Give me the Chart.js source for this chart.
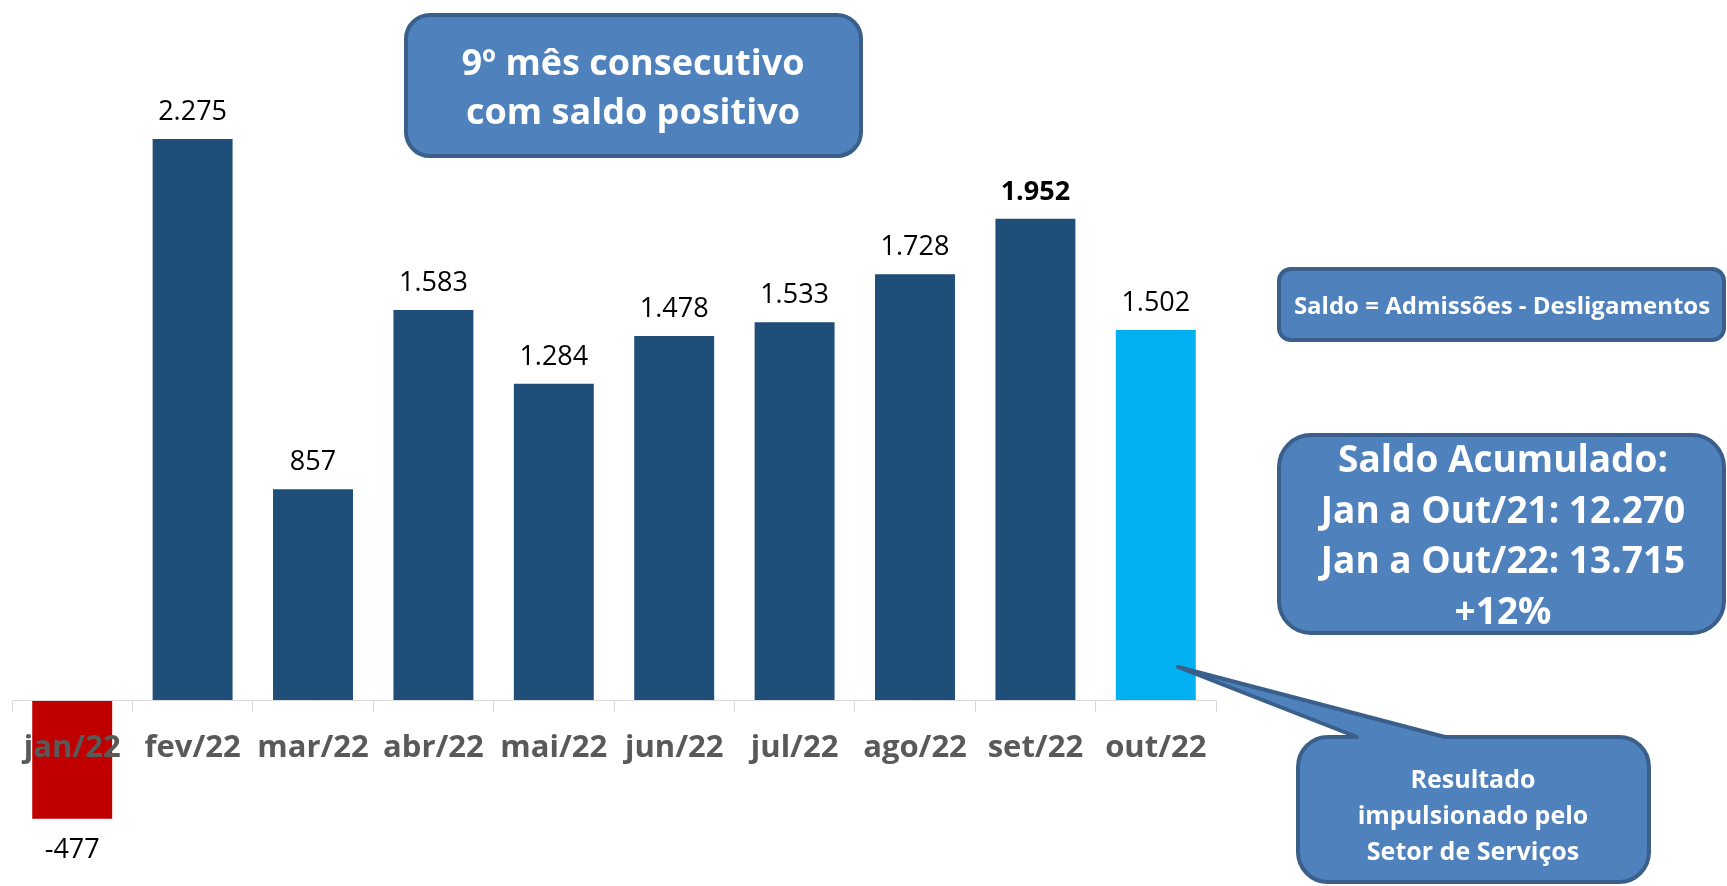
<!DOCTYPE html>
<html>
<head>
<meta charset="utf-8">
<script src="https://cdn.jsdelivr.net/npm/chart.js@4.4.0/dist/chart.umd.min.js"></script>
<style>
  html, body { margin: 0; padding: 0; background: #fff; }
  #wrap { width: 1727px; height: 886px; }
</style>
</head>
<body>
<div id="wrap"><canvas id="myChart" width="1727" height="886"></canvas></div>
<script>
// data
var months = ['jan/22', 'fev/22', 'mar/22', 'abr/22', 'mai/22', 'jun/22', 'jul/22', 'ago/22', 'set/22', 'out/22'];
var saldo = [-477, 2275, 857, 1583, 1284, 1478, 1533, 1728, 1952, 1502];
var boldValue = [false, false, false, false, false, false, false, false, true, false];

var titleLines = ['9º mês consecutivo', 'com saldo positivo'];
var formulaText = 'Saldo = Admissões - Desligamentos';
var acumLines = ['Saldo Acumulado:', 'Jan a Out/21: 12.270', 'Jan a Out/22: 13.715', '+12%'];
var calloutLines = ['Resultado', 'impulsionado pelo', 'Setor de Serviços'];

var DARK = '#1f4e79', LIGHT = '#00b0f0', RED = '#c00000';
var BOX_FILL = '#4f81bd', BOX_EDGE = '#3a5f8b';

function barColor(ctx) {
  var i = ctx.dataIndex;
  if (saldo[i] < 0) return RED;
  if (i === saldo.length - 1) return LIGHT;
  return DARK;
}

function fmt(v) {
  var s = String(Math.abs(v)).replace(/\B(?=(\d{3})+(?!\d))/g, '.');
  return (v < 0 ? '-' : '') + s;
}

function roundRect(c, x, y, w, h, r) {
  c.beginPath();
  c.moveTo(x + r, y);
  c.lineTo(x + w - r, y);
  c.arcTo(x + w, y, x + w, y + r, r);
  c.lineTo(x + w, y + h - r);
  c.arcTo(x + w, y + h, x + w - r, y + h, r);
  c.lineTo(x + r, y + h);
  c.arcTo(x, y + h, x, y + h - r, r);
  c.lineTo(x, y + r);
  c.arcTo(x, y, x + r, y, r);
  c.closePath();
}

function drawLines(c, lines, cx, baselines, font) {
  c.font = font;
  c.fillStyle = '#ffffff';
  c.textAlign = 'center';
  c.textBaseline = 'alphabetic';
  lines.forEach(function (t, i) { c.fillText(t, cx, baselines[i]); });
}

// value labels above / below bars
var valueLabels = {
  id: 'valueLabels',
  afterDatasetsDraw: function (chart) {
    var c = chart.ctx;
    var meta = chart.getDatasetMeta(0);
    c.save();
    c.textAlign = 'center';
    c.textBaseline = 'alphabetic';
    c.fillStyle = '#000000';
    meta.data.forEach(function (bar, i) {
      var v = saldo[i];
      c.font = (boldValue[i] ? 'bold ' : '') + '27px "Open Sans"';
      if (v >= 0) {
        c.fillText(fmt(v), bar.x, bar.y - 19);
      } else {
        c.fillText(fmt(v), bar.x, bar.y + 39);
      }
    });
    c.restore();
  }
};

// text boxes and callout
var boxes = {
  id: 'boxes',
  afterDraw: function (chart) {
    var c = chart.ctx;
    c.save();
    c.lineWidth = 4;
    c.strokeStyle = BOX_EDGE;
    c.fillStyle = BOX_FILL;

    roundRect(c, 406, 15, 455, 141, 24);
    c.fill(); c.stroke();
    drawLines(c, titleLines, 633, [75, 124], 'bold 36px "Open Sans"');

    c.fillStyle = BOX_FILL;
    roundRect(c, 1279, 269, 445, 71, 12);
    c.fill(); c.stroke();
    drawLines(c, [formulaText], 1502, [314], 'bold 24px "Open Sans"');

    c.fillStyle = BOX_FILL;
    roundRect(c, 1279, 435, 445, 198, 32);
    c.fill(); c.stroke();
    drawLines(c, acumLines, 1503, [472, 523, 573, 624], 'bold 37px "Open Sans"');

    // callout pointing at the last bar
    var x = 1298, y = 737, w = 351, h = 145, r = 30;
    c.fillStyle = BOX_FILL;
    c.beginPath();
    c.moveTo(x + r, y);
    c.lineTo(1357, y);
    c.lineTo(1178, 667);
    c.lineTo(1445, y);
    c.lineTo(x + w - r, y);
    c.arcTo(x + w, y, x + w, y + r, r);
    c.lineTo(x + w, y + h - r);
    c.arcTo(x + w, y + h, x + w - r, y + h, r);
    c.lineTo(x + r, y + h);
    c.arcTo(x, y + h, x, y + h - r, r);
    c.lineTo(x, y + r);
    c.arcTo(x, y, x + r, y, r);
    c.closePath();
    c.lineJoin = 'round';
    c.fill(); c.stroke();
    drawLines(c, calloutLines, 1473, [788, 824, 860], 'bold 25px "Open Sans"');
    c.restore();
  }
};

var ctx = document.getElementById('myChart').getContext('2d');
var myChart = new Chart(ctx, {
  type: 'bar',
  data: {
    labels: months,
    datasets: [{
      label: 'Saldo',
      data: saldo,
      backgroundColor: barColor,
      categoryPercentage: 1,
      barPercentage: 0.664
    }]
  },
  options: {
    responsive: false,
    animation: false,
    layout: { padding: { left: 12, right: 511, top: 83.5, bottom: 56.6 } },
    plugins: {
      legend: { display: false },
      tooltip: { enabled: false }
    },
    scales: {
      x: {
        position: { y: 0 },
        grid: { drawOnChartArea: false, tickLength: 11, color: '#d9d9d9', offset: true },
        border: { color: '#d9d9d9', width: 1, z: 1 },
        ticks: {
          z: 1,
          color: '#595959',
          padding: 18,
          autoSkip: false,
          maxRotation: 0,
          font: { family: 'Open Sans', size: 31, weight: 'bold' }
        }
      },
      y: { display: false, min: -520, max: 2500 }
    }
  },
  plugins: [valueLabels, boxes]
});
</script>
</body>
</html>
